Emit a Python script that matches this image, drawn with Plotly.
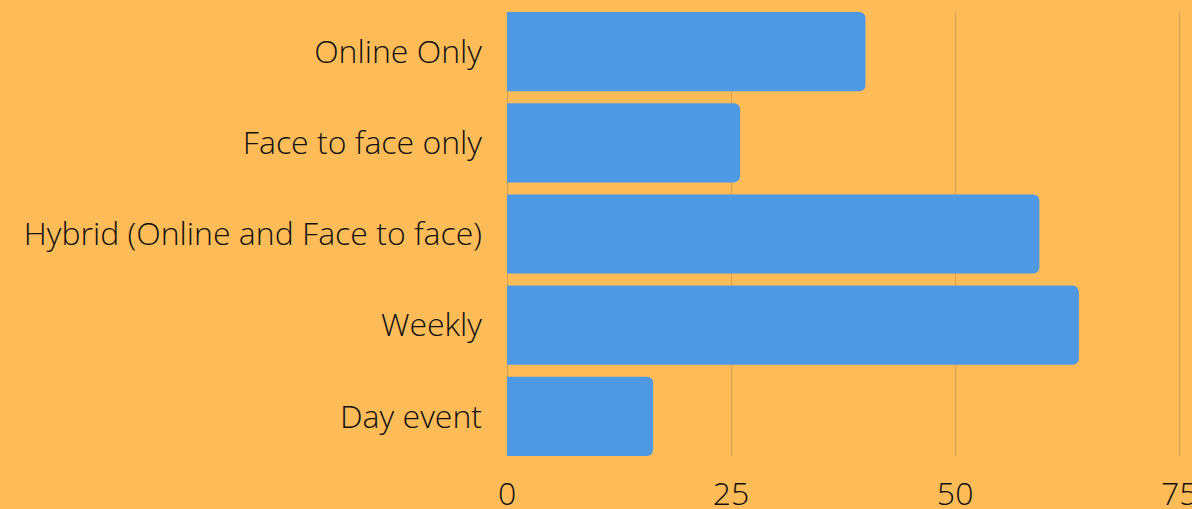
import plotly.graph_objects as go

categories = ["Online Only", "Face to face only", "Hybrid (Online and Face to face)", "Weekly", "Day event"]
values = [40, 26, 59.4, 63.8, 16.3]
x_ticks = [0, 25, 50, 75]

BG = "#FEBC59"
BAR = "#4F98E3"
GRID = "#D59E52"
FONT = dict(family="Open Sans", size=32, color="#111111", weight=300)

fig = go.Figure(go.Bar(
    x=values, y=categories, orientation="h",
    marker=dict(color=BAR, line=dict(width=0), cornerradius=6),
))
fig.update_layout(
    width=1192, height=509,
    paper_bgcolor=BG, plot_bgcolor=BG,
    margin=dict(l=507, r=11, t=12, b=53, autoexpand=False),
    bargap=0.132,
    showlegend=False,
    font=FONT,
)
fig.update_xaxes(
    range=[0, 75.2], tickvals=x_ticks, ticktext=[str(v) for v in x_ticks],
    showgrid=True, gridcolor=GRID, gridwidth=1,
    zeroline=True, zerolinecolor=GRID, zerolinewidth=1,
    showline=False, ticks="", tickfont=FONT, ticklabelstandoff=16,
    ticklabeloverflow="allow",
)
fig.update_yaxes(
    categoryorder="array", categoryarray=categories,
    range=[4.434, -0.434],
    showgrid=False, zeroline=False, showline=False, ticks="",
    tickfont=FONT, ticklabelstandoff=24,
)
fig.write_html(
    "out.html",
    config={"displayModeBar": False},
    post_script="document.body.style.margin='0';document.body.style.overflow='hidden';",
)
